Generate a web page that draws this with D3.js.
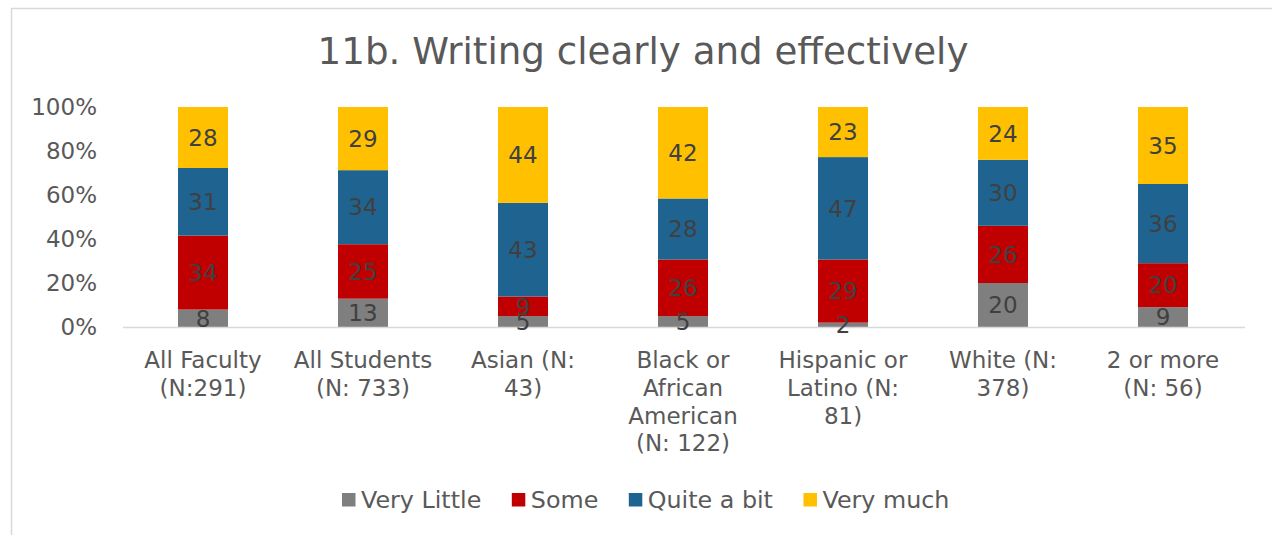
<!DOCTYPE html>
<html><head><meta charset="utf-8">
<script src="https://cdn.jsdelivr.net/npm/d3@7"></script>
<style>body{margin:0;background:#fff}svg{display:block}text{font-family:"DejaVu Sans",Verdana,sans-serif}</style>
</head><body><svg id="c" width="1272" height="535"></svg>
<script>
const categories = [
  ["All Faculty","(N:291)"],
  ["All Students","(N: 733)"],
  ["Asian (N:","43)"],
  ["Black or","African","American","(N: 122)"],
  ["Hispanic or","Latino (N:","81)"],
  ["White (N:","378)"],
  ["2 or more","(N: 56)"]
];
const seriesNames = ["Very Little","Some","Quite a bit","Very much"];
const seriesColors = ["#7F7F7F","#C00000","#1F6391","#FFC000"];
const veryLittle = [8,13,5,5,2,20,9];
const some = [34,25,9,26,29,26,20];
const quiteABit = [31,34,43,28,47,30,36];
const veryMuch = [28,29,44,42,23,24,35];
const yTicks = [0,0.2,0.4,0.6,0.8,1];
const title = "11b. Writing clearly and effectively";

const series = [veryLittle, some, quiteABit, veryMuch];
const svg = d3.select("#c");
const W=1272,H=535;
const FS=23;
// chart border
svg.append("path").attr("d",`M11.5,${H} V8.5 H${W}`).attr("fill","none").attr("stroke","#D9D9D9").attr("stroke-width",1.5);

const pL=123,pR=1243,pT=107,pB=327;
const idx = categories.map((d,i)=>i);
const x = d3.scaleBand().domain(idx).range([pL,pR]).paddingInner(0.6875).paddingOuter(0.34375);
const y = d3.scaleLinear().domain([0,1]).range([pB,pT]);

svg.append("text").attr("x",643).attr("y",64).attr("text-anchor","middle")
  .attr("font-size",37.2).attr("fill","#595959").text(title);

// y axis labels
const yAxis = d3.axisLeft(y).tickValues(yTicks).tickFormat(d3.format(".0%")).tickSize(0).tickPadding(0);
const ga = svg.append("g").attr("transform",`translate(97,0)`).call(yAxis);
ga.select(".domain").remove();
ga.selectAll("text").attr("font-size",FS).attr("fill","#595959").attr("font-family",'"DejaVu Sans",Verdana,sans-serif');

// stacks
idx.forEach(i=>{
  const total = d3.sum(series, s=>s[i]);
  let cum=0;
  series.forEach((s,k)=>{
    const v=s[i];
    const y0=y(cum/total), y1=y((cum+v)/total);
    svg.append("rect").attr("x",x(i)).attr("width",x.bandwidth()).attr("y",y1).attr("height",y0-y1).attr("fill",seriesColors[k]);
    cum+=v;
  });
});
// x axis line
svg.append("line").attr("x1",pL).attr("x2",1245).attr("y1",pB+0.5).attr("y2",pB+0.5).attr("stroke","#D9D9D9").attr("stroke-width",1.5);
// labels
idx.forEach(i=>{
  const total = d3.sum(series, s=>s[i]);
  let cum=0;
  series.forEach((s,k)=>{
    const v=s[i];
    const ym=y((cum+v/2)/total);
    svg.append("text").attr("x",x(i)+x.bandwidth()/2).attr("y",ym).attr("dy","0.36em")
      .attr("text-anchor","middle").attr("font-size",FS).attr("fill","#404040").text(v);
    cum+=v;
  });
});
// category labels
idx.forEach(i=>{
  const cx=x(i)+x.bandwidth()/2;
  const t=svg.append("text").attr("text-anchor","middle").attr("font-size",FS).attr("fill","#595959");
  categories[i].forEach((ln,j)=>t.append("tspan").attr("x",cx).attr("y",368+j*27.8).text(ln));
});
// legend
const lg = svg.append("g");
let lx=342;
seriesNames.forEach((n,k)=>{
  lg.append("rect").attr("x",lx).attr("y",493).attr("width",13.5).attr("height",13.5).attr("fill",seriesColors[k]);
  const t=lg.append("text").attr("x",lx+19).attr("y",508).attr("font-size",23.8).attr("fill","#595959").text(n);
  lx += 19 + t.node().getComputedTextLength() + 30.5;
});
</script></body></html>
